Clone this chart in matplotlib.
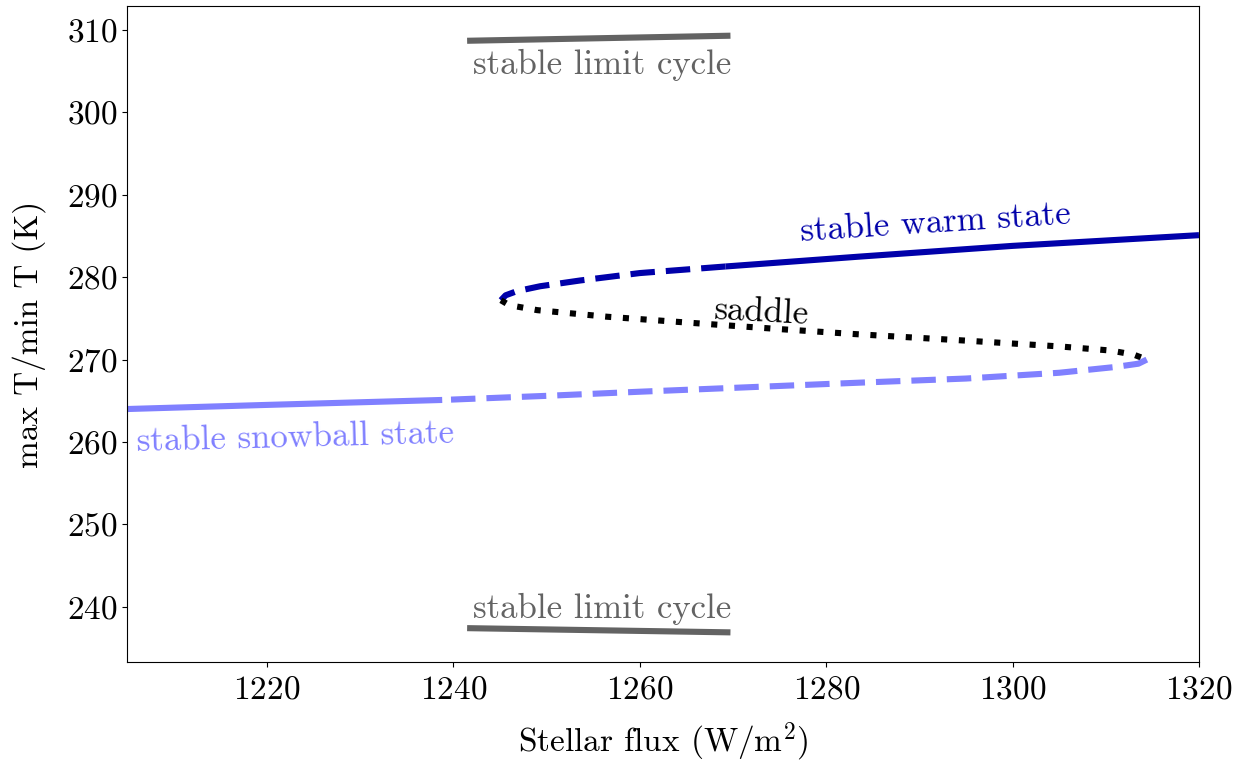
# 分岔图：雪球态 / 温暖态 / 鞍点 / 极限环
import matplotlib.pyplot as plt

plt.rcParams['font.family'] = 'serif'
plt.rcParams['font.serif'] = ['cmr10', 'DejaVu Serif']
plt.rcParams['mathtext.fontset'] = 'cm'
plt.rcParams['axes.formatter.use_mathtext'] = True
plt.rcParams['font.size'] = 24

# warm branch, stable part
warm_x = [1320, 1300, 1283.6, 1269.2]
warm_y = [285.1, 283.8, 282.5, 281.3]
# warm branch, unstable part
warm_u_x = [1269.2, 1260, 1253.6, 1249.3, 1246.8, 1245.6, 1245.1]
warm_u_y = [281.3, 280.5, 279.6, 278.9, 278.3, 277.8, 277.2]
# saddle
sad_x = [1245.1, 1246, 1249, 1256.5, 1265, 1275, 1283, 1295, 1305, 1310.5, 1313, 1314.4]
sad_y = [277.2, 276.6, 276.0, 275.2, 274.5, 273.7, 273.1, 272.3, 271.6, 271.1, 270.6, 270.0]
# snowball branch, unstable part
snow_u_x = [1314.4, 1313.5, 1311, 1305, 1295, 1283.6, 1275, 1260, 1250, 1238.8]
snow_u_y = [270.0, 269.5, 269.1, 268.4, 267.7, 267.2, 266.8, 266.1, 265.6, 265.1]
# snowball branch, stable part
snow_x = [1238.8, 1220, 1205]
snow_y = [265.1, 264.5, 264.0]
# limit cycle max / min
lc_x = [1241.8, 1269.4]
lc_max = [308.7, 309.3]
lc_min = [237.4, 236.9]

dark = '#0000aa'
light = '#8080ff'
grey = '#636363'
lw = 4.4

fig = plt.figure(figsize=(12.47, 7.63), dpi=100)
ax = fig.add_axes([0.102, 0.1324, 0.8595, 0.8596])

ax.plot(warm_x, warm_y, color=dark, lw=lw, solid_capstyle='butt')
ax.plot(warm_u_x, warm_u_y, color=dark, lw=lw, dashes=(4, 1.8))
ax.plot(sad_x, sad_y, color='black', lw=lw, dashes=(1, 1.9))
ax.plot(snow_u_x, snow_u_y, color=light, lw=lw, dashes=(4, 1.8))
ax.plot(snow_x, snow_y, color=light, lw=lw, solid_capstyle='butt')
ax.plot(lc_x, lc_max, color=grey, lw=lw)
ax.plot(lc_x, lc_min, color=grey, lw=lw)

ax.text(1256, 305.8, 'stable limit cycle', color=grey, ha='center', va='center', fontsize=25)
ax.text(1256, 239.7, 'stable limit cycle', color=grey, ha='center', va='center', fontsize=25)
ax.text(1291.7, 286.5, 'stable warm state', color=dark, ha='center', va='center',
        rotation=3.7, fontsize=25)
ax.text(1273.1, 275.7, 'saddle', color='black', ha='center', va='center', rotation=-3,
        fontsize=25)
ax.text(1223.1, 260.5, 'stable snowball state', color=light, ha='center', va='center',
        rotation=1.5, fontsize=25)

ax.set_xlim(1205, 1320)
ax.set_ylim(233.3, 312.9)
ax.set_xticks([1220, 1240, 1260, 1280, 1300, 1320])
ax.set_yticks([240, 250, 260, 270, 280, 290, 300, 310])
ax.tick_params(axis='x', pad=6)
ax.set_xlabel('Stellar flux (W/m$^2$)', labelpad=12)
ax.set_ylabel('max T/min T (K)', labelpad=15)

plt.savefig('out.png', dpi=100)
